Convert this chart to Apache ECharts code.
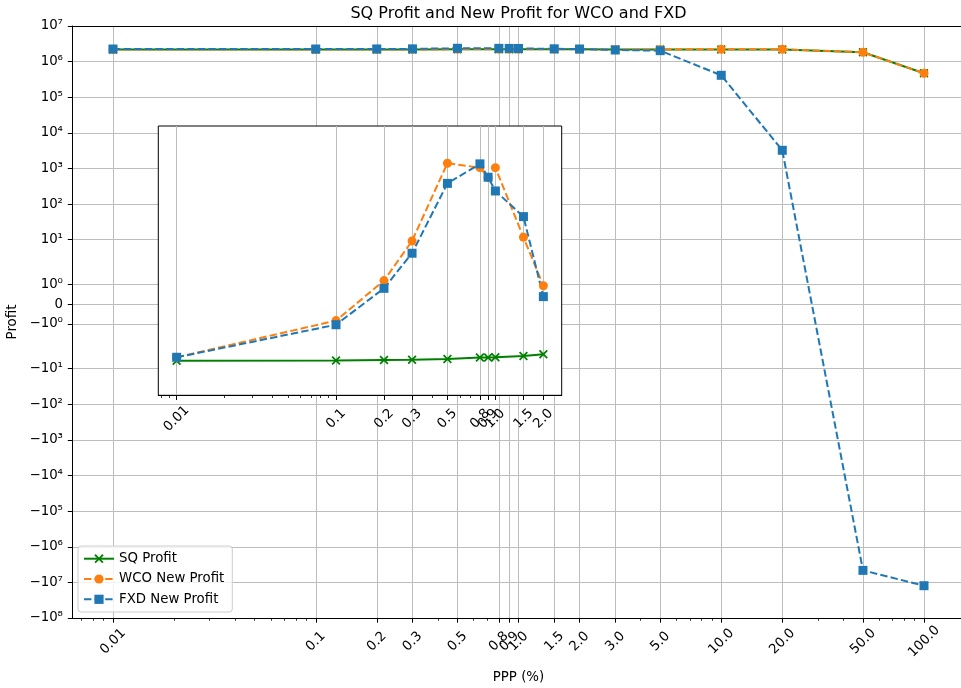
<!DOCTYPE html>
<html><head><meta charset="utf-8">
<script src="https://cdn.jsdelivr.net/npm/echarts@6/dist/echarts.min.js"></script>
<style>html,body{margin:0;padding:0;background:#fff}#c{width:961px;height:688px}</style>
</head><body><div id="c"></div>
<script>
// ---------- data ----------
const ppp = [0.01, 0.1, 0.2, 0.3, 0.5, 0.8, 0.9, 1.0, 1.5, 2.0, 3.0, 5.0, 10, 20, 50, 100];
const sqProfit  = [2.19e6, 2.19e6, 2.2e6, 2.2e6, 2.21e6, 2.21e6, 2.21e6, 2.21e6, 2.21e6, 2.21e6, 2.2e6, 2.2e6, 2.2e6, 2.2e6, 1.83e6, 4.7e5];
const wcoProfit = [2.19e6, 2.19e6, 2.2e6, 2.2e6, 2.21e6, 2.21e6, 2.21e6, 2.21e6, 2.21e6, 2.21e6, 2.2e6, 2.2e6, 2.22e6, 2.22e6, 1.83e6, 4.7e5];
const fxdProfit = [2.26e6, 2.26e6, 2.27e6, 2.28e6, 2.37e6, 2.36e6, 2.35e6, 2.34e6, 2.29e6, 2.26e6, 2.12e6, 2.03e6, 4.13e5, 3.24e3, -4.6e6, -1.24e7];

const insetPPP = [0.01, 0.1, 0.2, 0.3, 0.5, 0.8, 0.9, 1.0, 1.5, 2.0];
const insetSQ  = [-6.0, -5.9, -5.7, -5.6, -5.4, -4.9, -4.85, -4.8, -4.4, -3.95];
const insetWCO = [-4.8, -0.83, 1.19, 9.2, 1400, 1050, 560, 1050, 11.7, 0.93];
const insetFXD = [-4.8, -1.04, 0.80, 4.16, 380, 1340, 566, 233, 44.3, 0.38];

const xTickValues = [0.01, 0.1, 0.2, 0.3, 0.5, 0.8, 0.9, 1.0, 1.5, 2.0, 3.0, 5.0, 10, 20, 50, 100];
const xTickLabels = ['0.01', '0.1', '0.2', '0.3', '0.5', '0.8', '0.9', '1.0', '1.5', '2.0', '3.0', '5.0', '10.0', '20.0', '50.0', '100.0'];
const xMinorTicks = [0.007, 0.008, 0.009, 0.02, 0.03, 0.04, 0.05, 0.06, 0.07, 0.08, 0.09, 0.2, 0.3, 0.4, 0.5, 0.6, 0.7, 0.8, 0.9,
                     2, 3, 4, 5, 6, 7, 8, 9, 20, 30, 40, 50, 60, 70, 80, 90];
const insetTickValues = [0.01, 0.1, 0.2, 0.3, 0.5, 0.8, 0.9, 1.0, 1.5, 2.0];
const insetTickLabels = ['0.01', '0.1', '0.2', '0.3', '0.5', '0.8', '0.9', '1.0', '1.5', '2.0'];
const insetMinorTicks = [0.008, 0.009, 0.02, 0.03, 0.04, 0.05, 0.06, 0.07, 0.08, 0.09, 0.2, 0.3, 0.4, 0.5, 0.6, 0.7, 0.8, 0.9, 2];

const yTickValues = [1e7, 1e6, 1e5, 1e4, 1e3, 1e2, 10, 1, 0, -1, -10, -1e2, -1e3, -1e4, -1e5, -1e6, -1e7, -1e8];
const yTickLabels = ['10⁷', '10⁶', '10⁵', '10⁴', '10³', '10²', '10¹', '10⁰', '0', '−10⁰', '−10¹', '−10²', '−10³', '−10⁴', '−10⁵', '−10⁶', '−10⁷', '−10⁸'];

const mainXRange = [Math.pow(10, -2.2), Math.pow(10, 2.2)];
const mainYRange = [-1e8, 1e7];
const insetXRange = [Math.pow(10, -2.11505), Math.pow(10, 0.41608)];
const insetYRange = [-56, 15500];

// ---------- symlog transform (linthresh 2, base 10, linscale 1) ----------
const LINTHRESH = 2, LINSCALE_ADJ = 1 / (1 - 1 / 10);
function symlog(v) {
  const a = Math.abs(v);
  if (a <= LINTHRESH) return v * LINSCALE_ADJ;
  return Math.sign(v) * LINTHRESH * (LINSCALE_ADJ + Math.log10(a / LINTHRESH));
}

const FONT = 'DejaVu Sans';
const GREEN = '#008000', ORANGE = '#ff7f0e', BLUE = '#1f77b4';
const GRIDC = '#bdbdbd';
const DASH = [7.4, 3.2];
const XSYM = 'path://M0,1.4L1.4,0L5,3.6L8.6,0L10,1.4L6.4,5L10,8.6L8.6,10L5,6.4L1.4,10L0,8.6L3.6,5Z';

function xFmt(values, labels) {
  return function (v) {
    for (let i = 0; i < values.length; i++) {
      if (Math.abs(v - values[i]) <= values[i] * 1e-6) return labels[i];
    }
    return '';
  };
}
function yFmt(v) {
  for (let i = 0; i < yTickValues.length; i++) {
    if (Math.abs(v - symlog(yTickValues[i])) < 1e-6) return yTickLabels[i];
  }
  return '';
}

const yTickT = yTickValues.map(symlog);
const yGridT = yTickValues.slice(1, -1).map(symlog);

function pts(xs, ys) { return xs.map((x, i) => [x, symlog(ys[i])]); }

function mkSeries(name, xs, ys, xi, yi, z, style) {
  return Object.assign({
    type: 'line', name: name, xAxisIndex: xi, yAxisIndex: yi, z: z,
    data: pts(xs, ys), showSymbol: true, showAllSymbol: true, symbolSize: 9,
    emphasis: { disabled: true }, animation: false
  }, style);
}
const sqStyle = { symbol: XSYM, symbolSize: 9, lineStyle: { color: GREEN, width: 2, type: 'solid' }, itemStyle: { color: GREEN } };
const wcoStyle = { symbol: 'circle', lineStyle: { color: ORANGE, width: 2, type: DASH }, itemStyle: { color: ORANGE } };
const fxdStyle = { symbol: 'rect', lineStyle: { color: BLUE, width: 2, type: DASH }, itemStyle: { color: BLUE } };

const MAIN = { left: 72.45, top: 26, width: 892.1, height: 592 };
const INSET = { left: 158.3, top: 126, width: 403.4, height: 269.3 };

const option = {
  animation: false,
  textStyle: { fontFamily: FONT },
  title: {
    text: 'SQ Profit and New Profit for WCO and FXD',
    left: 513.5, top: 1, textAlign: 'center',
    textStyle: { fontFamily: FONT, fontSize: 16, fontWeight: 'normal', color: '#000' }
  },
  legend: {
    orient: 'vertical', left: 78, top: 546,
    padding: [6.2, 8, 6.2, 5], itemWidth: 30, itemHeight: 11.5, itemGap: 7.3,
    backgroundColor: 'rgba(255,255,255,0.8)', borderColor: '#cccccc', borderWidth: 1, borderRadius: 3,
    textStyle: { fontFamily: FONT, fontSize: 13.33, color: '#000' },
    data: ['SQ Profit', 'WCO New Profit', 'FXD New Profit'],
    z: 20
  },
  grid: [
    Object.assign({ show: false, outerBoundsMode: 'none', containLabel: false }, MAIN),
    Object.assign({ show: true, backgroundColor: '#ffffff', borderColor: '#000', borderWidth: 1, z: 5, outerBoundsMode: 'none', containLabel: false }, INSET)
  ],
  xAxis: [
    { // 0: main x axis with labels + grid lines
      type: 'log', logBase: 10, gridIndex: 0, min: mainXRange[0], max: mainXRange[1], position: 'bottom', z: 1,
      name: 'PPP (%)', nameLocation: 'middle', nameGap: 53,
      nameTextStyle: { fontFamily: FONT, fontSize: 13.33, color: '#000' },
      axisLine: { show: true, onZero: false, lineStyle: { color: '#000', width: 1 } },
      axisTick: { show: true, length: 4.67, lineStyle: { color: '#000', width: 1 }, customValues: xTickValues },
      axisLabel: { show: true, customValues: xTickValues, rotate: 45, align: 'center', verticalAlign: 'middle', margin: 23.5,
                   hideOverlap: false, fontFamily: FONT, fontSize: 13.33, color: '#000', formatter: xFmt(xTickValues, xTickLabels) },
      splitLine: { show: true, lineStyle: { color: GRIDC, width: 1 } },
      minorTick: { show: false }, minorSplitLine: { show: false }
    },
    { // 1: main minor ticks
      type: 'log', logBase: 10, gridIndex: 0, min: mainXRange[0], max: mainXRange[1], position: 'bottom', z: 1,
      axisLine: { show: false, onZero: false },
      axisTick: { show: true, length: 2.7, lineStyle: { color: '#000', width: 0.8 }, customValues: xMinorTicks },
      axisLabel: { show: false }, splitLine: { show: false }
    },
    { // 2: top spine
      type: 'value', gridIndex: 0, min: 0, max: 1, position: 'top', z: 1,
      axisLine: { show: true, onZero: false, lineStyle: { color: '#000', width: 1 } },
      axisTick: { show: false }, axisLabel: { show: false }, splitLine: { show: false }
    },
    { // 3: inset x axis
      type: 'log', logBase: 10, gridIndex: 1, min: insetXRange[0], max: insetXRange[1], position: 'bottom', z: 6,
      axisLine: { show: true, onZero: false, lineStyle: { color: '#000', width: 1 } },
      axisTick: { show: true, length: 4.67, lineStyle: { color: '#000', width: 1 }, customValues: insetTickValues },
      axisLabel: { show: true, customValues: insetTickValues, rotate: 45, align: 'center', verticalAlign: 'middle', margin: 23.5,
                   hideOverlap: false, fontFamily: FONT, fontSize: 13.33, color: '#000', formatter: xFmt(insetTickValues, insetTickLabels) },
      splitLine: { show: true, lineStyle: { color: GRIDC, width: 1 } }
    },
    { // 4: inset minor ticks
      type: 'log', logBase: 10, gridIndex: 1, min: insetXRange[0], max: insetXRange[1], position: 'bottom', z: 6,
      axisLine: { show: false, onZero: false },
      axisTick: { show: true, length: 2.7, lineStyle: { color: '#000', width: 0.8 }, customValues: insetMinorTicks },
      axisLabel: { show: false }, splitLine: { show: false }
    }
  ],
  yAxis: [
    { // 0: main y axis labels + ticks + spine
      type: 'value', gridIndex: 0, min: symlog(mainYRange[0]), max: symlog(mainYRange[1]), position: 'left', z: 1,
      name: 'Profit', nameLocation: 'middle', nameGap: 46, nameRotate: 90,
      nameTextStyle: { fontFamily: FONT, fontSize: 13.33, color: '#000' },
      axisLine: { show: true, onZero: false, lineStyle: { color: '#000', width: 1 } },
      axisTick: { show: true, length: 4.67, lineStyle: { color: '#000', width: 1 }, customValues: yTickT },
      axisLabel: { show: true, customValues: yTickT, margin: 9.5, hideOverlap: false,
                   fontFamily: FONT, fontSize: 13.33, color: '#000', formatter: yFmt },
      splitLine: { show: false }
    },
    { // 1: main horizontal grid lines
      type: 'value', gridIndex: 0, min: symlog(mainYRange[0]), max: symlog(mainYRange[1]), position: 'left', z: 0,
      axisLine: { show: false, onZero: false },
      axisTick: { show: false, customValues: yGridT },
      axisLabel: { show: false, customValues: yGridT },
      splitLine: { show: true, lineStyle: { color: GRIDC, width: 1 } }
    },
    { // 2: inset y axis (hidden)
      type: 'value', gridIndex: 1, min: symlog(insetYRange[0]), max: symlog(insetYRange[1]), show: false, z: 6,
      splitLine: { show: false }
    }
  ],
  series: [
    mkSeries('SQ Profit', ppp, sqProfit, 0, 0, 2, sqStyle),
    mkSeries('WCO New Profit', ppp, wcoProfit, 0, 0, 2, wcoStyle),
    mkSeries('FXD New Profit', ppp, fxdProfit, 0, 0, 2, fxdStyle),
    mkSeries('SQ Profit', insetPPP, insetSQ, 3, 2, 7, sqStyle),
    mkSeries('WCO New Profit', insetPPP, insetWCO, 3, 2, 7, wcoStyle),
    mkSeries('FXD New Profit', insetPPP, insetFXD, 3, 2, 7, fxdStyle)
  ]
};

const chart = echarts.init(document.getElementById('c'), null, { renderer: 'canvas' });
chart.setOption(option);
</script>
</body></html>
